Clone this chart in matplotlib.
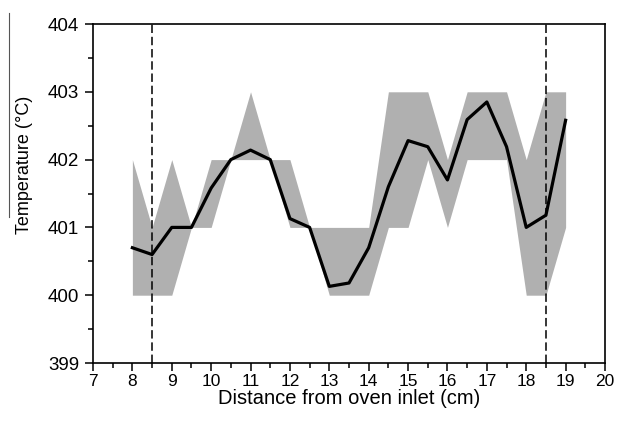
import matplotlib
matplotlib.use("Agg")
import matplotlib.pyplot as plt
from matplotlib.lines import Line2D
from matplotlib.ticker import MultipleLocator

plt.rcParams['font.family'] = ['Liberation Sans', 'DejaVu Sans']

# posições (cm)
distancia = [8, 8.5, 9, 9.5, 10, 10.5, 11, 11.5, 12, 12.5, 13, 13.5, 14,
             14.5, 15, 15.5, 16, 16.5, 17, 17.5, 18, 18.5, 19]
# temperatura média
temp_media = [400.70, 400.60, 401.0, 401.0, 401.58, 402.0, 402.14, 402.0,
              401.13, 401.0, 400.13, 400.18, 400.70, 401.60, 402.28, 402.19,
              401.70, 402.59, 402.85, 402.19, 401.0, 401.18, 402.58]
# faixa min / max
temp_min = [400, 400, 400, 401, 401, 402, 402, 402, 401, 401, 400, 400, 400,
            401, 401, 402, 401, 402, 402, 402, 400, 400, 401]
temp_max = [402, 401, 402, 401, 402, 402, 403, 402, 402, 401, 401, 401, 401,
            403, 403, 403, 402, 403, 403, 403, 402, 403, 403]
# limites da zona
limites = [8.5, 18.5]

fig = plt.figure(figsize=(6.17, 4.28), dpi=100)
ax = fig.add_axes([93 / 617, 1 - 363 / 428, 512 / 617, 339 / 428])

ax.fill_between(distancia, temp_min, temp_max, color='#b0b0b0', linewidth=0)
ax.plot(distancia, temp_media, color='black', linewidth=2.3)
for xl in limites:
    ax.axvline(xl, color='black', linestyle=(0, (5.5, 2.5)), linewidth=1.1)

ax.set_xlim(7, 20)
ax.set_ylim(399, 404)
ax.xaxis.set_major_locator(MultipleLocator(1))
ax.xaxis.set_minor_locator(MultipleLocator(0.5))
ax.yaxis.set_major_locator(MultipleLocator(1))
ax.yaxis.set_minor_locator(MultipleLocator(0.5))
ax.tick_params(which='major', direction='out', length=6, width=1.1,
               top=False, right=False)
ax.tick_params(which='minor', direction='out', length=3.5, width=1.1,
               top=False, right=False)
ax.tick_params(axis='x', labelsize=12.5, pad=2)
ax.tick_params(axis='y', labelsize=13.5, pad=4)
for sp in ax.spines.values():
    sp.set_linewidth(1.2)

ax.set_xlabel("Distance from oven inlet (cm)", fontsize=14.5, labelpad=0)
ax.set_ylabel("Temperature (°C)", fontsize=13)
ax.yaxis.set_label_coords(-0.118, 0.584)

# traço fino à esquerda da imagem original
fig.add_artist(Line2D([9 / 617, 9 / 617], [1 - 13 / 428, 1 - 217 / 428],
                      color='#555555', linewidth=0.8))

fig.savefig("out.png", dpi=100)
